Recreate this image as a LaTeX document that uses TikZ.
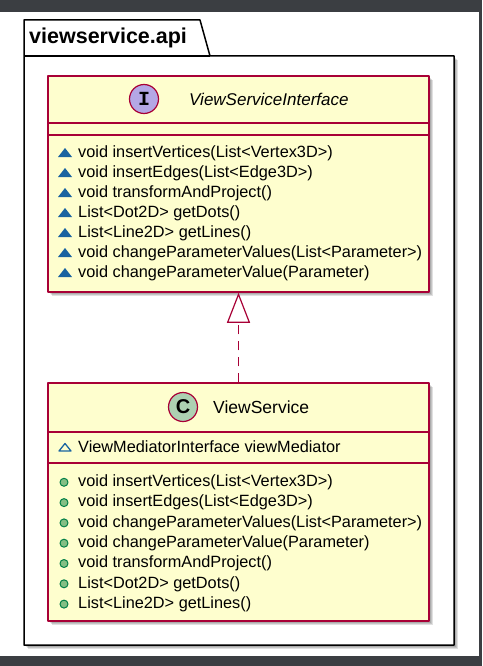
\documentclass[tikz,border=0pt]{standalone}
\usepackage{fontspec}
\setmainfont{Liberation Sans}
\newfontfamily\circfont{Liberation Mono}
\usetikzlibrary{arrows.meta}
\definecolor{umlfill}{HTML}{FEFECE}
\definecolor{umlline}{HTML}{A80036}
\definecolor{ifcirc}{HTML}{B4A7E5}
\definecolor{clcirc}{HTML}{ADD1B2}
\definecolor{bgdark}{HTML}{3B3E42}
\definecolor{pkgblue}{HTML}{1963A0}
\definecolor{pubgreen}{HTML}{84BE84}
\definecolor{publine}{HTML}{038048}
\tikzset{
  classbox/.style={draw=umlline, fill=umlfill, line width=1.5pt, minimum width=381pt, inner sep=0pt},
  meth/.style={anchor=west, inner sep=0pt, font=\fontsize{16.3}{18}\selectfont},
  badge/.style={circle, draw=umlline, line width=1.2pt, minimum size=29pt, inner sep=0pt},
  shade/.style={fill=black, opacity=0.12},
}
\begin{document}
\begin{tikzpicture}[x=1pt,y=-1pt, line join=round]
  \useasboundingbox (0,0) rectangle (482,666);
  \fill[bgdark] (0,0) rectangle (482,666);
  \fill[white] (0,12) rectangle (479,656);
  % package
  \foreach \s in {2,3,4} \fill[shade] (24+\s,56+\s) rectangle (454+\s,645+\s);
  \draw[line width=1.5pt, fill=white] (24,56) -- (24,20) -- (200,20) -- (210,56) -- (454,56) -- (454,645) -- (24,645) -- cycle;
  \draw[line width=1.5pt] (24,56) -- (210,56);
  \node[anchor=west, inner sep=0pt, font=\bfseries\fontsize{21.5}{24}\selectfont] (pkg) at (29,38) {viewservice.api};
  % interface
  \foreach \s in {2,3,4} \fill[shade] (48+\s,76+\s) rectangle (429+\s,292+\s);
  \node[classbox, minimum height=216pt] (iface) at (238.5,184) {};
  \draw[umlline, line width=1.5pt] (48,123) -- (429,123) (48,135) -- (429,135);
  \node[badge, fill=ifcirc] (ibadge) at (144,99) {\circfont\bfseries\fontsize{20}{20}\selectfont I};
  \node[anchor=west, inner sep=0pt, font=\itshape\fontsize{17}{20}\selectfont] (iname) at (189,99) {ViewServiceInterface};
  \foreach \m [count=\i] in {void insertVertices(List<Vertex3D>), void insertEdges(List<Edge3D>),
      void transformAndProject(), List<Dot2D> getDots(), List<Line2D> getLines(),
      void changeParameterValues(List<Parameter>), void changeParameterValue(Parameter)}{
    \fill[pkgblue] (58,133+20*\i+4) -- (72,133+20*\i+4) -- (65,133+20*\i-5) -- cycle;
    \node[meth] (im\i) at (78,133+20*\i) {\m};
  }
  % class
  \foreach \s in {2,3,4} \fill[shade] (48+\s,383+\s) rectangle (429+\s,621+\s);
  \node[classbox, minimum height=238pt] (svc) at (238.5,502) {};
  \draw[umlline, line width=1.5pt] (48,432) -- (429,432) (48,463) -- (429,463);
  \node[badge, fill=clcirc] (cbadge) at (183,407) {\bfseries\fontsize{20}{20}\selectfont C};
  \node[anchor=west, inner sep=0pt, font=\fontsize{17.5}{20}\selectfont] (cname) at (213,407) {ViewService};
  \draw[pkgblue, line width=1.3pt] (59,451) -- (71,451) -- (65,443.5) -- cycle;
  \node[meth] (attr) at (78,447) {ViewMediatorInterface viewMediator};
  \foreach \m [count=\i] in {void insertVertices(List<Vertex3D>), void insertEdges(List<Edge3D>),
      void changeParameterValues(List<Parameter>), void changeParameterValue(Parameter),
      void transformAndProject(), List<Dot2D> getDots(), List<Line2D> getLines()}{
    \filldraw[fill=pubgreen, draw=publine, line width=1pt] (64,462+20.3*\i) circle (4);
    \node[meth] (cm\i) at (78,462+20.3*\i) {\m};
  }
  % realization
  \draw[umlline, line width=1.2pt, dash pattern=on 9pt off 7pt, -{Triangle[open, length=30pt, width=23pt, line width=1.2pt]}] (svc.north) -- (iface.south);
\end{tikzpicture}
\end{document}
